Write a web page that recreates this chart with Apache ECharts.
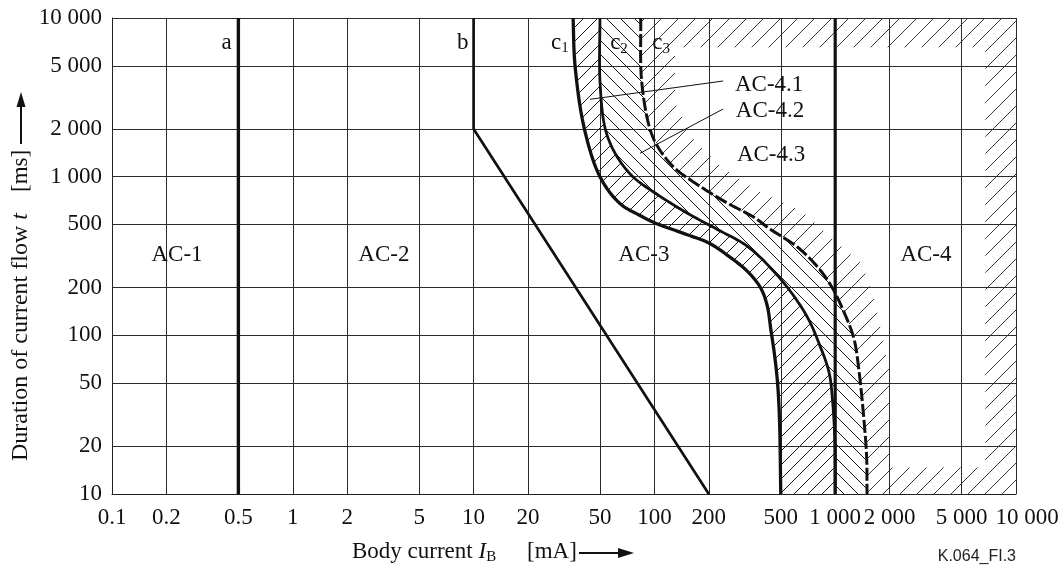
<!DOCTYPE html>
<html><head><meta charset="utf-8">
<script src="https://cdn.jsdelivr.net/npm/echarts@6/dist/echarts.min.js"></script>
<style>html,body{margin:0;padding:0;background:#fff}#c{width:1064px;height:569px}</style>
</head><body><div id="c"></div>
<script>
// ---- data (mA, ms) ----
const xTicks = [0.1,0.2,0.5,1,2,5,10,20,50,100,200,500,1000,2000,5000,10000];
const xTickLabels = ['0.1','0.2','0.5','1','2','5','10','20','50','100','200','500','1 000','2 000','5 000','{r|10 000}'];
const yTicks = [10,20,50,100,200,500,1000,2000,5000,10000];
const yTickLabels = ['10','20','50','100','200','500','1 000','2 000','5 000','10 000'];

const lineA = [[0.5,10],[0.5,10000]];
const lineB = [[10,10000],[10,2000],[200,10]];
const line1000 = [[1000,10],[1000,10000]];
const curveC1 = [[35.5,10000],[36.4,5000],[41,2000],[50,1000],[64,682],[84.3,565],[99.5,514],[153.4,429],[200,382],[264,309],[326,254],[386,200],[420,155],[441,108],[462,75],[480,50],[492,29.3],[500,10]];
const curveC2 = [[50,10000],[50,4000],[53.5,2000],[61.3,1373],[76,1000],[106,760],[154,584],[223,465],[326,365],[438,267],[566,189],[707,128],[821,86.7],[926,58],[969,37.5],[995,21.6],[1000,10]];
const curveC3 = [[84,10000],[85,4000],[94.5,2000],[106,1500],[130,1128],[174,887],[253,682],[353,557],[438,466],[620,359],[805,267],[962,200],[1119,140],[1270,95],[1358,58],[1448,27.8],[1492,17.2],[1500,10]];
const ac43Inner = [[130,6550],[130,2927],[160,1777],[233,1156],[386,796],[648,612],[1000,391],[1416,279],[1676,155],[1834,95],[2000,58],[2000,14.7],[6770,14.7],[6770,6550]];
const plotCorners = [[10000,10],[10000,10000]];

const regionLabels = ['AC-1','AC-2','AC-3','AC-4','AC-4.1','AC-4.2','AC-4.3'];
const regionLabelPos = [[0.229,320],[3.19,320],[87.5,320],[3177,320],[431,3811],[436,2612],[442,1380]];
const curveLabels = ['a','b','c{s|1}','c{s|2}','c{s|3}'];
const curveLabelPos = [[0.43,7000],[8.7,7000],[30,7000],[63.7,6950],[108.8,6950]];
const leader41 = [[240,4009],[44.1,3073]];
const leader42 = [[240,2670],[83.2,1403]];

// ---- helpers ----
const SERIF = 'Liberation Serif';
const INK = '#111';
const FS = 23;

function hatch(size, dir, color, width) {
  const c = document.createElement('canvas');
  c.width = size; c.height = size;
  const g = c.getContext('2d');
  g.strokeStyle = color; g.lineWidth = width;
  g.beginPath();
  for (let k = -1; k <= 1; k++) {
    if (dir === '/') { g.moveTo(k*size, size); g.lineTo(k*size + size, 0); }
    else { g.moveTo(k*size, 0); g.lineTo(k*size + size, size); }
  }
  g.stroke();
  return {image: c, repeat: 'repeat'};
}

function spline(P, n) {
  if (P.length < 3) return P.slice();
  const L = P.length;
  const ext = [[2*P[0][0]-P[1][0], 2*P[0][1]-P[1][1]], ...P, [2*P[L-1][0]-P[L-2][0], 2*P[L-1][1]-P[L-2][1]]];
  const d = (a,b) => Math.max(Math.pow(Math.hypot(b[0]-a[0], b[1]-a[1]), 0.5), 1e-4);
  const out = [];
  for (let i = 1; i < ext.length - 2; i++) {
    const p0=ext[i-1], p1=ext[i], p2=ext[i+1], p3=ext[i+2];
    const t0=0, t1=t0+d(p0,p1), t2=t1+d(p1,p2), t3=t2+d(p2,p3);
    for (let k = 0; k < n; k++) {
      const t = t1 + (t2-t1)*k/n;
      const lerp = (a,b,ta,tb) => [(tb-t)/(tb-ta)*a[0]+(t-ta)/(tb-ta)*b[0], (tb-t)/(tb-ta)*a[1]+(t-ta)/(tb-ta)*b[1]];
      const A1=lerp(p0,p1,t0,t1), A2=lerp(p1,p2,t1,t2), A3=lerp(p2,p3,t2,t3);
      const B1=lerp(A1,A2,t0,t2), B2=lerp(A2,A3,t1,t3);
      out.push(lerp(B1,B2,t1,t2));
    }
  }
  out.push(P[L-1]);
  return out;
}
const px = (api, pts) => pts.map(p => api.coord(p));
const sp = (api, pts) => spline(px(api, pts), 10);

function labelFor(v, ticks, labels) {
  if (!(v > 0)) return '';
  let best = 0, bd = Infinity;
  ticks.forEach((t,i) => { const dd = Math.abs(Math.log10(t) - Math.log10(v)); if (dd < bd) { bd = dd; best = i; } });
  return labels[best];
}

const fill41 = hatch(14, '/', '#1a1a1a', 1);
const fill42 = hatch(14, '\\', '#1a1a1a', 1);
const fill43 = hatch(17, '/', '#3a3a3a', 1);

function region(name, build, fill) {
  return {type:'custom', name, z:1, silent:true, coordinateSystem:'cartesian2d', data:[[1,100]],
    renderItem: (params, api) => ({type:'polygon', shape:{points: build(api)}, style:{fill: fill, stroke: null, lineWidth: 0}})};
}
function curve(name, pts, width, dash) {
  return {type:'custom', name, z:6, silent:true, coordinateSystem:'cartesian2d', data:[[1,100]],
    renderItem: (params, api) => ({type:'polyline', shape:{points: sp(api, pts)}, style:{stroke: INK, fill: null, lineWidth: width, lineDash: dash || null}})};
}
function straight(name, pts, width) {
  return {type:'line', name, data: pts, symbol:'none', z:6, silent:true, animation:false, lineStyle:{color: INK, width: width}};
}
function textLayer(names, pos, extra) {
  return {type:'scatter', z:10, silent:true, symbol:'circle', symbolSize:1, itemStyle:{color:'rgba(0,0,0,0)', opacity:1},
    data: pos.map((p,i) => ({value:p, name:names[i]})),
    label: Object.assign({show:true, position:'inside', formatter:'{b}', fontFamily:SERIF, fontSize:FS, color:INK, opacity:1, textBorderWidth:0}, extra || {})};
}

const axisCommon = {
  type:'log', logBase:10, z:3,
  axisLine:{show:true, lineStyle:{color:'#222', width:1}},
  splitLine:{show:true, lineStyle:{color:'#2b2b2b', width:1}},
  minorTick:{show:false}, minorSplitLine:{show:false}
};

const chart = echarts.init(document.getElementById('c'), null, {renderer:'canvas'});
chart.setOption({
  animation:false,
  backgroundColor:'#fff',
  grid:{left:112, right:48, top:18, bottom:75, containLabel:false},
  xAxis: Object.assign({}, axisCommon, {
    min:0.1, max:10000,
    axisTick:{show:false, customValues:xTicks},
    axisLabel:{customValues:xTicks, formatter: v => labelFor(v, xTicks, xTickLabels), fontFamily:SERIF, fontSize:FS, color:INK, margin:12,
      showMinLabel:true, showMaxLabel:true, hideOverlap:false,
      rich:{r:{fontFamily:SERIF, fontSize:FS, color:INK, padding:[0,0,0,22]}}}
  }),
  yAxis: Object.assign({}, axisCommon, {
    min:10, max:10000,
    axisTick:{show:false, customValues:yTicks},
    axisLabel:{customValues:yTicks, formatter: v => labelFor(v, yTicks, yTickLabels), fontFamily:SERIF, fontSize:FS, color:INK, margin:10, showMinLabel:true, showMaxLabel:true, hideOverlap:false}
  }),
  series:[
    region('AC-4.1', api => [...sp(api, curveC1), ...sp(api, curveC2).reverse()], fill41),
    region('AC-4.2', api => [...sp(api, curveC2), ...sp(api, curveC3).reverse()], fill42),
    region('AC-4.3', api => {
      const q = ac43Inner[0];
      return [...sp(api, curveC3), ...px(api, plotCorners), api.coord(curveC3[0]),
              api.coord(q), ...px(api, ac43Inner.slice(1).reverse()), api.coord(q)];
    }, fill43),
    curve('c1', curveC1, 3.3),
    curve('c2', curveC2, 2.8),
    curve('c3', curveC3, 3, [13, 3]),
    straight('a', lineA, 3.4),
    straight('b', lineB, 2.7),
    straight('1000', line1000, 3.2),
    straight('leader41', leader41, 1),
    straight('leader42', leader42, 1),
    textLayer(regionLabels, regionLabelPos),
    textLayer(curveLabels, curveLabelPos, {lineHeight:26, rich:{s:{fontFamily:SERIF, fontSize:15, color:INK, lineHeight:12, verticalAlign:'bottom'}}})
  ],
  graphic:[
    {type:'text', x:352, y:552, silent:true, style:{text:'{m|Body current }{i|I}{s|B}', align:'left', verticalAlign:'middle',
      rich:{m:{fontFamily:SERIF, fontSize:FS, fill:INK, lineHeight:26}, i:{fontFamily:SERIF, fontSize:FS, fontStyle:'italic', fill:INK, lineHeight:26}, s:{fontFamily:SERIF, fontSize:15, fill:INK, lineHeight:10, verticalAlign:'bottom'}}}},
    {type:'text', x:527, y:552, silent:true, style:{text:'[mA]', font:FS + 'px "Liberation Serif"', fill:INK, align:'left', verticalAlign:'middle'}},
    {type:'line', silent:true, shape:{x1:579, y1:553, x2:622, y2:553}, style:{stroke:INK, lineWidth:2}},
    {type:'polygon', silent:true, shape:{points:[[634,553],[618,548],[618,558]]}, style:{fill:INK}},
    {type:'text', x:21, y:461, rotation:Math.PI/2, silent:true, style:{text:'{m|Duration of current flow }{i|t}', align:'left', verticalAlign:'middle',
      rich:{m:{fontFamily:SERIF, fontSize:24, fill:INK}, i:{fontFamily:SERIF, fontSize:24, fontStyle:'italic', fill:INK}}}},
    {type:'text', x:21, y:192, rotation:Math.PI/2, silent:true, style:{text:'[ms]', font:FS + 'px "Liberation Serif"', fill:INK, align:'left', verticalAlign:'middle'}},
    {type:'line', silent:true, shape:{x1:21, y1:144, x2:21, y2:104}, style:{stroke:INK, lineWidth:2}},
    {type:'polygon', silent:true, shape:{points:[[21,92],[16.5,107],[25.5,107]]}, style:{fill:INK}},
    {type:'text', x:1016, y:557, silent:true, style:{text:'K.064_FI.3', font:'16px "Liberation Sans"', fill:'#222', align:'right', verticalAlign:'middle'}}
  ]
});
</script></body></html>
